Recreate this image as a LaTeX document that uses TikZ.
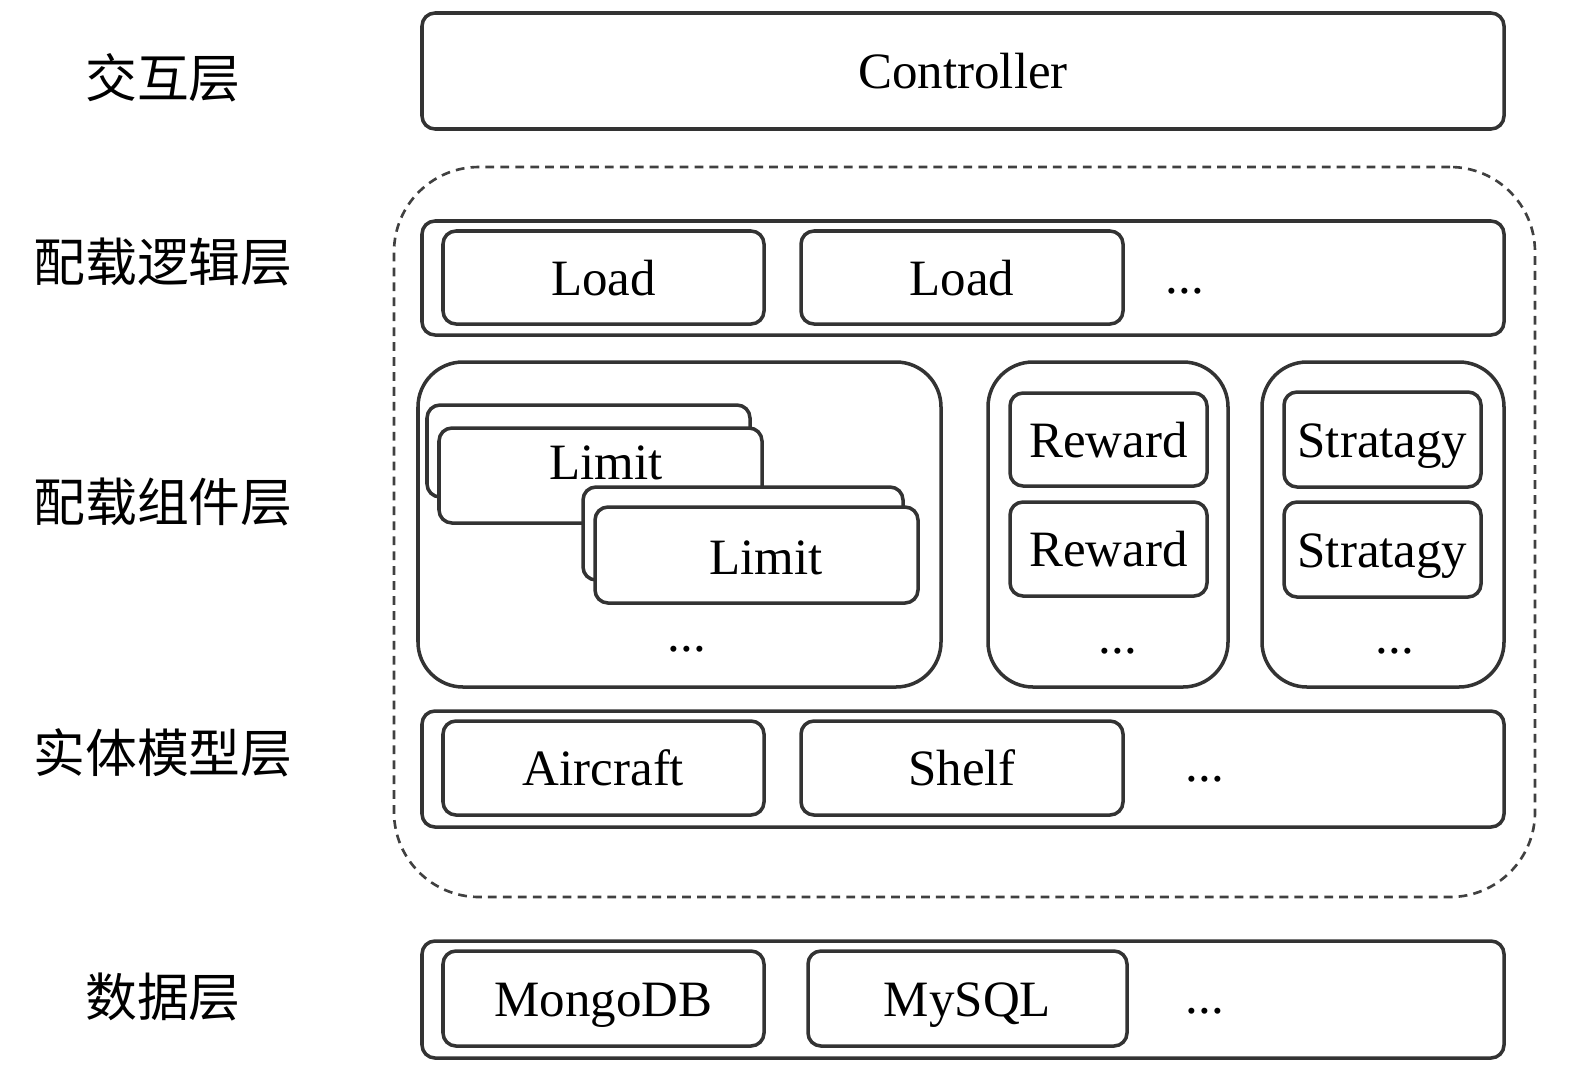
\documentclass[tikz,border=0pt]{standalone}
\usepackage{fontspec}
\setmainfont{Liberation Serif}
\newfontfamily\cjk{Noto Sans CJK SC}
\usetikzlibrary{fit}
\begin{document}
\begin{tikzpicture}[x=0.02cm,y=-0.02cm,
  box/.style={draw=black!80, line width=2pt, rounded corners=0.26cm, fill=white, inner sep=0pt},
  container/.style={box, rounded corners=0.9cm},
  dashbox/.style={draw=black!75, line width=1.5pt, dash pattern=on 5pt off 3.5pt, rounded corners=1.7cm, inner sep=0pt},
  lbl/.style={font=\cjk\fontsize{29.5}{34}\selectfont, inner sep=0pt},
  txt/.style={font=\fontsize{29}{34}\selectfont, inner sep=0pt, text height=26pt, text depth=6pt},
  dotstyle/.style={font=\fontsize{29}{34}\selectfont, inner sep=0pt}]
\useasboundingbox (0,0) rectangle (1575,1069);

% layer labels
\node[lbl] (l1) at (163,78) {交互层};
\node[lbl] (l2) at (163,262) {配载逻辑层};
\node[lbl] (l3) at (163,502) {配载组件层};
\node[lbl] (l4) at (163,753) {实体模型层};
\node[lbl] (l5) at (163,997) {数据层};

% interaction layer
\node[box, fit={(422,13) (1504,129)}] (ctrl) {};
\node[txt] (ctrlt) at (ctrl.center) {Controller};

% dashed region
\node[dashbox, fit={(394,167) (1535,897)}] (dash) {};

% load logic layer
\node[box, fit={(422,221) (1504,335)}] (loadrow) {};
\node[box, fit={(443,231) (764,324)}] (load1) {};
\node[txt] (load1t) at (load1.center) {Load};
\node[box, fit={(801,231) (1123,324)}] (load2) {};
\node[txt] (load2t) at (load2.center) {Load};
\node[dotstyle] (loaddots) at (1185,291) {...};

% component layer
\node[container, fit={(418,362) (941,687)}] (limc) {};
\node[box, fit={(427,405) (750,497)}] (limb1) {};
\node[box, fit={(439,428) (762,523)}] (limf1) {};
\node[txt] (limt1) at (606,462) {Limit};
\node[box, fit={(583,487) (903,580)}] (limb2) {};
\node[box, fit={(595,507) (918,603)}] (limf2) {};
\node[txt] (limt2) at (766,557) {Limit};
\node[dotstyle] (limdots) at (687,649) {...};

\node[container, fit={(988,362) (1228,687)}] (rewc) {};
\node[box, fit={(1010,393) (1207,486)}] (rew1) {};
\node[txt] (rew1t) at (rew1.center) {Reward};
\node[box, fit={(1010,502) (1207,596)}] (rew2) {};
\node[txt] (rew2t) at (rew2.center) {Reward};
\node[dotstyle] (rewdots) at (1118,651) {...};

\node[container, fit={(1262,362) (1504,687)}] (strc) {};
\node[box, fit={(1284,392) (1481,487)}] (str1) {};
\node[txt] (str1t) at (str1.center) {Stratagy};
\node[box, fit={(1284,502) (1481,597)}] (str2) {};
\node[txt] (str2t) at (str2.center) {Stratagy};
\node[dotstyle] (strdots) at (1395,651) {...};

% entity model layer
\node[box, fit={(422,711) (1504,827)}] (entrow) {};
\node[box, fit={(443,721) (764,815)}] (air) {};
\node[txt] (airt) at (air.center) {Aircraft};
\node[box, fit={(801,721) (1123,815)}] (shelf) {};
\node[txt] (shelft) at (shelf.center) {Shelf};
\node[dotstyle] (entdots) at (1205,779) {...};

% data layer
\node[box, fit={(422,941) (1504,1058)}] (datarow) {};
\node[box, fit={(443,951) (764,1046)}] (mongo) {};
\node[txt] (mongot) at (mongo.center) {MongoDB};
\node[box, fit={(808,951) (1127,1046)}] (mysql) {};
\node[txt] (mysqlt) at (mysql.center) {MySQL};
\node[dotstyle] (datadots) at (1205,1011) {...};
\end{tikzpicture}
\end{document}
